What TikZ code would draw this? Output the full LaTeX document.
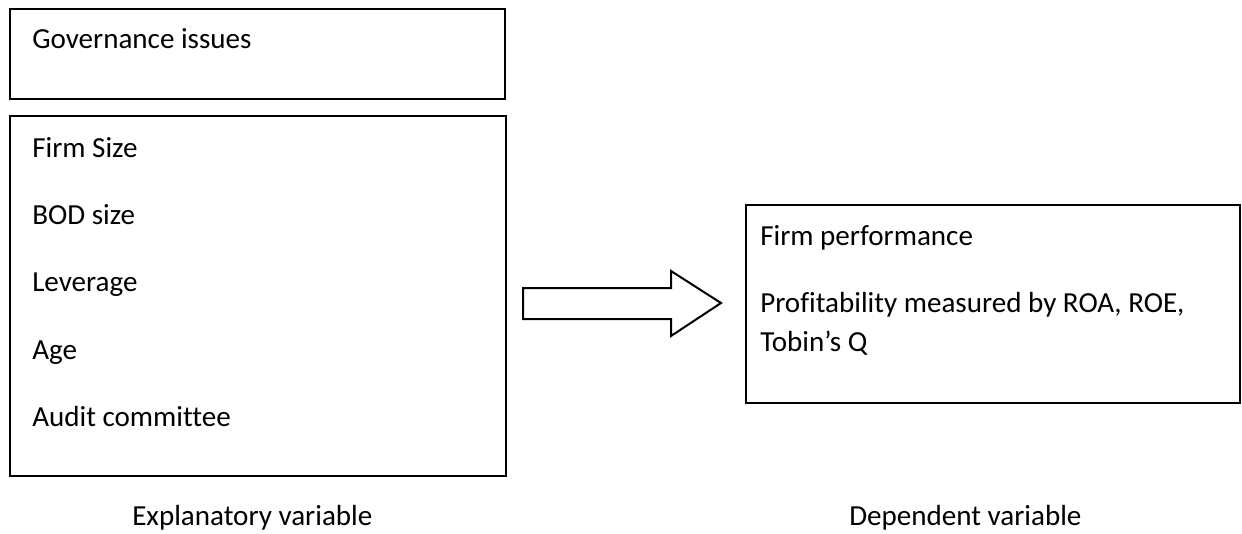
\documentclass[tikz,border=0pt]{standalone}
\usepackage{fontspec}
\setmainfont{Carlito}[Ligatures=NoCommon]
\usepackage{tikz}

\begin{document}
\begin{tikzpicture}[x=0.75pt,y=0.75pt,yscale=-1,xscale=1,
    txt/.style={anchor=base west,inner sep=0pt,font=\fontsize{21.8}{26}\selectfont},
    frame/.style={line width=1.5pt}]
    \useasboundingbox [fill=white] (0,0) rectangle (1242,533);
    
    %Shape: Rectangle [id:govbox] 
    \draw [frame] (10,9) rectangle (505,99) ;
    %Shape: Rectangle [id:explbox] 
    \draw [frame] (10,116) rectangle (506,476) ;
    %Shape: Rectangle [id:depbox] 
    \draw [frame] (746,205) rectangle (1240,403) ;
    %Shape: Right Arrow [id:blockarrow] 
    \draw [frame, fill=white] (523,288) -- (671,288) -- (671,271) -- (721,303) -- (671,336) -- (671,319) -- (523,319) -- cycle ;
    
    % Text Node
    \node (gov) [txt] at (32,48) {Governance issues};
    % Text Node
    \node (size) [txt] at (32,157) {Firm Size};
    % Text Node
    \node (bod) [txt] at (32,224) {BOD size};
    % Text Node
    \node (lev) [txt] at (32,291) {Leverage};
    % Text Node
    \node (age) [txt] at (32,359) {Age};
    % Text Node
    \node (audit) [txt] at (32,426) {Audit committee};
    % Text Node
    \node (perf) [txt] at (760,245) {Firm performance};
    % Text Node
    \node (profit) [txt] at (760,312) {Profitability measured by ROA, ROE,};
    % Text Node
    \node (tobin) [txt] at (760,351) {Tobin’s Q};
    % Text Node
    \node (expl) [txt] at (132,525) {Explanatory variable};
    % Text Node
    \node (dep) [txt] at (849,525) {Dependent variable};
    
\end{tikzpicture}
\end{document}
